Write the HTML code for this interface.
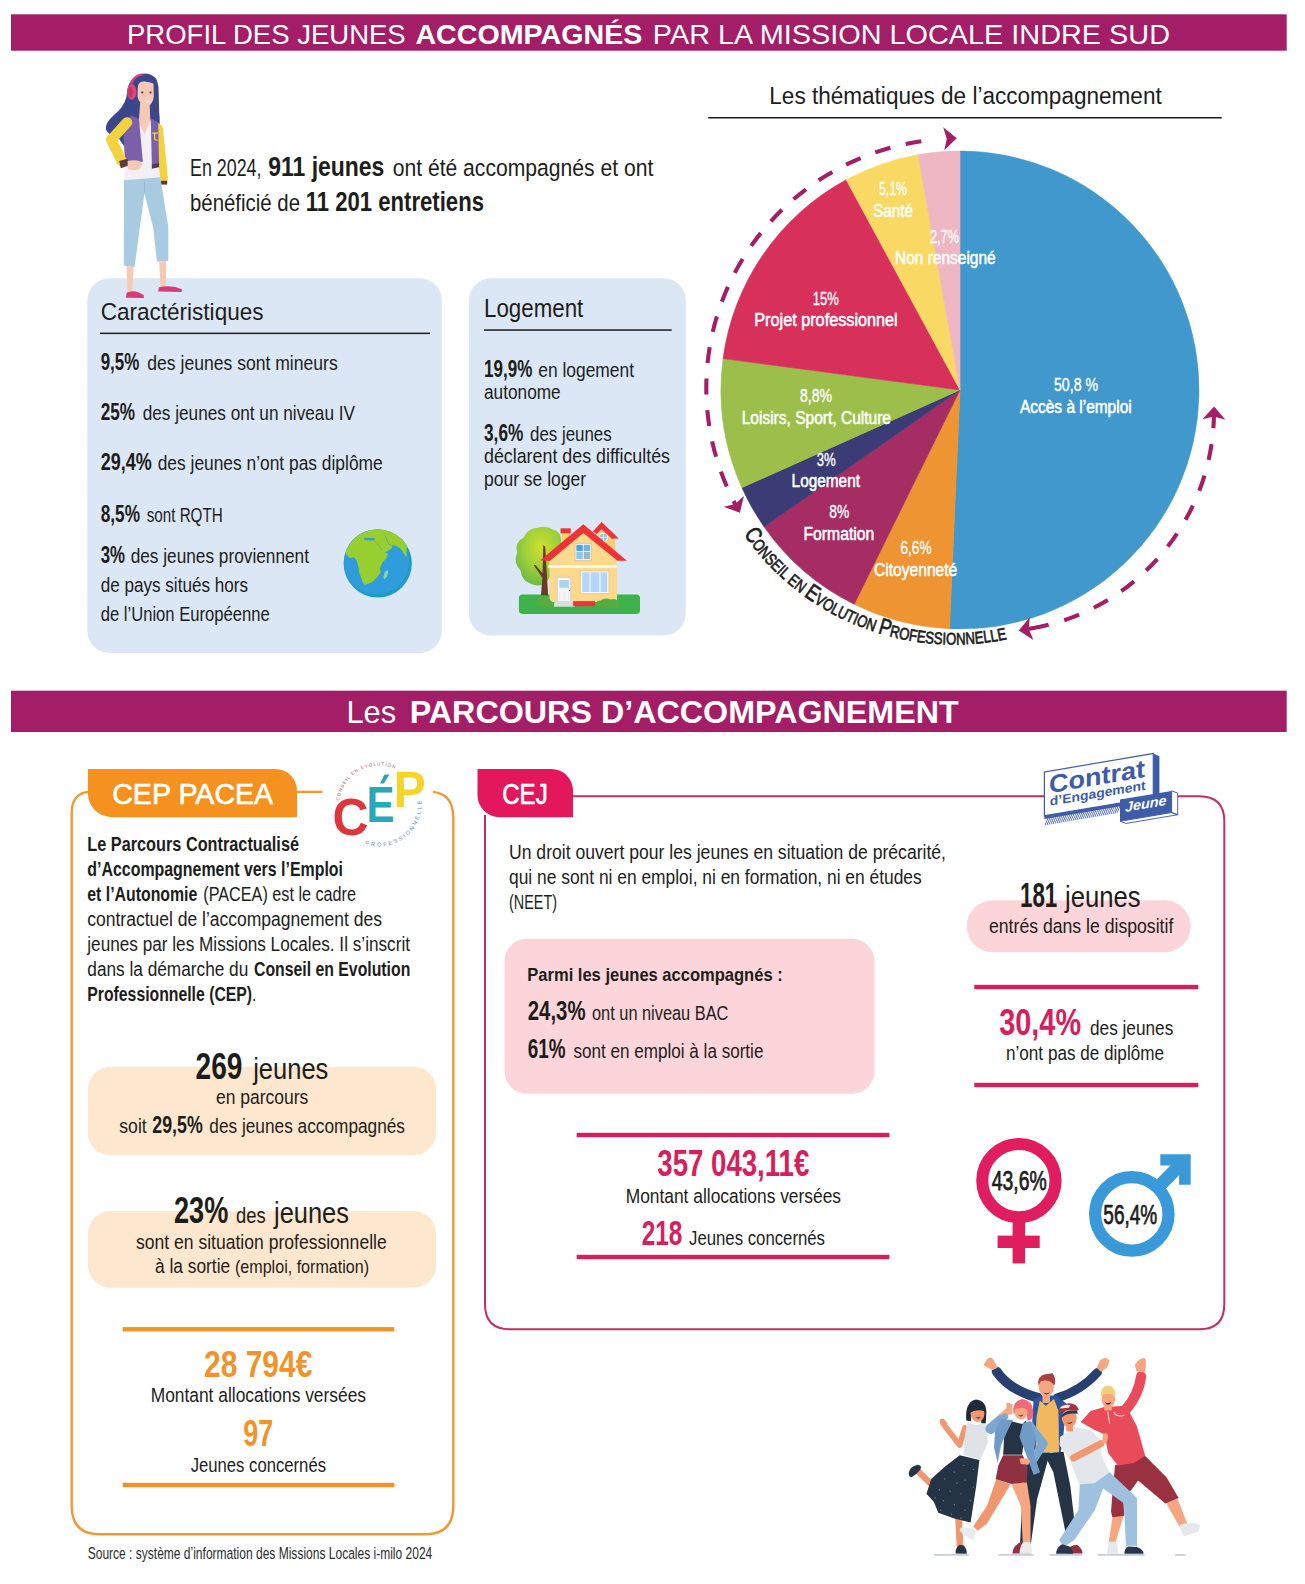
<!DOCTYPE html>
<html lang="fr"><head><meta charset="utf-8"><title>Profil des jeunes accompagnés par la Mission Locale Indre Sud</title>
<style>
html,body{margin:0;padding:0;background:#fff}
svg{display:block}
text{font-family:"Liberation Sans",sans-serif}
</style></head><body>
<svg width="1305" height="1584" viewBox="0 0 1305 1584">
<rect width="1305" height="1584" fill="#fff"/>
<rect x="11" y="14.3" width="1275.7" height="36.4" fill="#a31e66"/>
<text x="127.0" y="43.7" font-size="28.5" fill="#fff" text-anchor="start" textLength="278.7" lengthAdjust="spacingAndGlyphs">PROFIL DES JEUNES</text>
<text x="415.4" y="43.7" font-size="28.5" fill="#fff" text-anchor="start" font-weight="bold" textLength="227.1" lengthAdjust="spacingAndGlyphs">ACCOMPAGNÉS</text>
<text x="652.8" y="43.7" font-size="28.5" fill="#fff" text-anchor="start" textLength="517.2" lengthAdjust="spacingAndGlyphs">PAR LA MISSION LOCALE INDRE SUD</text>
<text x="190.0" y="175.7" font-size="23.7" fill="#1d1d1b" text-anchor="start" textLength="71.5" lengthAdjust="spacingAndGlyphs">En 2024,</text>
<text x="268.3" y="175.7" font-size="28" fill="#1d1d1b" text-anchor="start" font-weight="bold" textLength="116.0" lengthAdjust="spacingAndGlyphs">911 jeunes</text>
<text x="392.7" y="175.7" font-size="23.7" fill="#1d1d1b" text-anchor="start" textLength="260.6" lengthAdjust="spacingAndGlyphs">ont été accompagnés et ont</text>
<text x="190.0" y="210.7" font-size="23.7" fill="#1d1d1b" text-anchor="start" textLength="110.0" lengthAdjust="spacingAndGlyphs">bénéficié de</text>
<text x="305.7" y="210.7" font-size="27" fill="#1d1d1b" text-anchor="start" font-weight="bold" textLength="178.3" lengthAdjust="spacingAndGlyphs">11 201 entretiens</text>
<rect x="87.3" y="278.3" width="354.5" height="374.6" rx="22" fill="#dce7f5"/>
<text x="100.7" y="320.0" font-size="24.5" fill="#1d1d1b" text-anchor="start" textLength="162.8" lengthAdjust="spacingAndGlyphs">Caractéristiques</text>
<rect x="100" y="332.6" width="330" height="1.5" fill="#1d1d1b"/>
<text x="100.7" y="370.0" font-size="23.5" fill="#1d1d1b" text-anchor="start" font-weight="bold" textLength="38.6" lengthAdjust="spacingAndGlyphs">9,5%</text>
<text x="147.3" y="370.0" font-size="20.5" fill="#1d1d1b" text-anchor="start" textLength="190.4" lengthAdjust="spacingAndGlyphs">des jeunes sont mineurs</text>
<text x="100.7" y="420.0" font-size="23.5" fill="#1d1d1b" text-anchor="start" font-weight="bold" textLength="34.3" lengthAdjust="spacingAndGlyphs">25%</text>
<text x="142.7" y="420.0" font-size="20.5" fill="#1d1d1b" text-anchor="start" textLength="212.3" lengthAdjust="spacingAndGlyphs">des jeunes ont un niveau IV</text>
<text x="100.7" y="470.0" font-size="23.5" fill="#1d1d1b" text-anchor="start" font-weight="bold" textLength="51.0" lengthAdjust="spacingAndGlyphs">29,4%</text>
<text x="157.7" y="470.0" font-size="20.5" fill="#1d1d1b" text-anchor="start" textLength="225.0" lengthAdjust="spacingAndGlyphs">des jeunes n’ont pas diplôme</text>
<text x="100.7" y="521.7" font-size="23.5" fill="#1d1d1b" text-anchor="start" font-weight="bold" textLength="39.3" lengthAdjust="spacingAndGlyphs">8,5%</text>
<text x="146.7" y="521.7" font-size="20.5" fill="#1d1d1b" text-anchor="start" textLength="76.0" lengthAdjust="spacingAndGlyphs">sont RQTH</text>
<text x="100.7" y="563.0" font-size="23.5" fill="#1d1d1b" text-anchor="start" font-weight="bold" textLength="24.3" lengthAdjust="spacingAndGlyphs">3%</text>
<text x="130.7" y="563.0" font-size="20.5" fill="#1d1d1b" text-anchor="start" textLength="178.3" lengthAdjust="spacingAndGlyphs">des jeunes proviennent</text>
<text x="100.7" y="592.3" font-size="20.5" fill="#1d1d1b" text-anchor="start" textLength="147.3" lengthAdjust="spacingAndGlyphs">de pays situés hors</text>
<text x="100.7" y="621.3" font-size="20.5" fill="#1d1d1b" text-anchor="start" textLength="169.0" lengthAdjust="spacingAndGlyphs">de l’Union Européenne</text>
<rect x="468.9" y="278.3" width="216.8" height="357.1" rx="22" fill="#dce7f5"/>
<text x="484.0" y="316.7" font-size="25" fill="#1d1d1b" text-anchor="start" textLength="99.3" lengthAdjust="spacingAndGlyphs">Logement</text>
<rect x="484" y="329.3" width="187.7" height="1.5" fill="#1d1d1b"/>
<text x="484.0" y="376.7" font-size="23.5" fill="#1d1d1b" text-anchor="start" font-weight="bold" textLength="48.3" lengthAdjust="spacingAndGlyphs">19,9%</text>
<text x="538.3" y="376.7" font-size="20.5" fill="#1d1d1b" text-anchor="start" textLength="95.7" lengthAdjust="spacingAndGlyphs">en logement</text>
<text x="484.0" y="399.3" font-size="20.5" fill="#1d1d1b" text-anchor="start" textLength="76.7" lengthAdjust="spacingAndGlyphs">autonome</text>
<text x="484.0" y="440.7" font-size="23.5" fill="#1d1d1b" text-anchor="start" font-weight="bold" textLength="39.3" lengthAdjust="spacingAndGlyphs">3,6%</text>
<text x="530.0" y="440.7" font-size="20.5" fill="#1d1d1b" text-anchor="start" textLength="81.7" lengthAdjust="spacingAndGlyphs">des jeunes</text>
<text x="484.0" y="463.3" font-size="20.5" fill="#1d1d1b" text-anchor="start" textLength="186.0" lengthAdjust="spacingAndGlyphs">déclarent des difficultés</text>
<text x="484.0" y="486.0" font-size="20.5" fill="#1d1d1b" text-anchor="start" textLength="102.0" lengthAdjust="spacingAndGlyphs">pour se loger</text>
<text x="769.3" y="104.3" font-size="23.3" fill="#1d1d1b" text-anchor="start" textLength="392.4" lengthAdjust="spacingAndGlyphs">Les thématiques de l’accompagnement</text>
<rect x="708.3" y="117" width="513.4" height="1.5" fill="#1d1d1b"/>
<path d="M960 390 L960.00 151.00 A239 239 0 1 1 949.49 628.77 Z" fill="#4198cd" stroke="#4198cd" stroke-width="0.6"/>
<path d="M960 390 L949.49 628.77 A239 239 0 0 1 854.18 604.30 Z" fill="#ee9433" stroke="#ee9433" stroke-width="0.6"/>
<path d="M960 390 L854.18 604.30 A239 239 0 0 1 764.03 526.81 Z" fill="#a62d63" stroke="#a62d63" stroke-width="0.6"/>
<path d="M960 390 L764.03 526.81 A239 239 0 0 1 741.87 487.67 Z" fill="#3b3b75" stroke="#3b3b75" stroke-width="0.6"/>
<path d="M960 390 L741.87 487.67 A239 239 0 0 1 723.08 358.56 Z" fill="#9bbf4a" stroke="#9bbf4a" stroke-width="0.6"/>
<path d="M960 390 L723.08 358.56 A239 239 0 0 1 846.18 179.84 Z" fill="#d7305a" stroke="#d7305a" stroke-width="0.6"/>
<path d="M960 390 L846.18 179.84 A239 239 0 0 1 918.17 154.69 Z" fill="#f9d864" stroke="#f9d864" stroke-width="0.6"/>
<path d="M960 390 L918.17 154.69 A239 239 0 0 1 960.00 151.00 Z" fill="#efb6c4" stroke="#efb6c4" stroke-width="0.6"/>
<text x="1076.0" y="390.7" font-size="17.5" fill="#fff" text-anchor="middle" textLength="44.0" lengthAdjust="spacingAndGlyphs" stroke="#fff" stroke-width="0.35">50,8 %</text>
<text x="1020.0" y="412.7" font-size="17.5" fill="#fff" text-anchor="start" textLength="111.7" lengthAdjust="spacingAndGlyphs" stroke="#fff" stroke-width="0.55">Accès à l’emploi</text>
<text x="916.0" y="554.0" font-size="17.5" fill="#fff" text-anchor="middle" textLength="31.0" lengthAdjust="spacingAndGlyphs" stroke="#fff" stroke-width="0.35">6,6%</text>
<text x="874.0" y="575.7" font-size="17.5" fill="#fff" text-anchor="start" textLength="83.3" lengthAdjust="spacingAndGlyphs" stroke="#fff" stroke-width="0.55">Citoyenneté</text>
<text x="839.3" y="518.0" font-size="17.5" fill="#fff" text-anchor="middle" textLength="20.0" lengthAdjust="spacingAndGlyphs" stroke="#fff" stroke-width="0.35">8%</text>
<text x="803.4" y="539.9" font-size="17.5" fill="#fff" text-anchor="start" textLength="70.9" lengthAdjust="spacingAndGlyphs" stroke="#fff" stroke-width="0.55">Formation</text>
<text x="826.3" y="465.7" font-size="17.5" fill="#fff" text-anchor="middle" textLength="19.0" lengthAdjust="spacingAndGlyphs" stroke="#fff" stroke-width="0.35">3%</text>
<text x="791.6" y="487.4" font-size="17.5" fill="#fff" text-anchor="start" textLength="68.4" lengthAdjust="spacingAndGlyphs" stroke="#fff" stroke-width="0.55">Logement</text>
<text x="816.0" y="401.7" font-size="17.5" fill="#fff" text-anchor="middle" textLength="32.0" lengthAdjust="spacingAndGlyphs" stroke="#fff" stroke-width="0.35">8,8%</text>
<text x="741.7" y="424.3" font-size="17.5" fill="#fff" text-anchor="start" textLength="149.3" lengthAdjust="spacingAndGlyphs" stroke="#fff" stroke-width="0.55">Loisirs, Sport, Culture</text>
<text x="825.7" y="305.0" font-size="17.5" fill="#fff" text-anchor="middle" textLength="26.0" lengthAdjust="spacingAndGlyphs" stroke="#fff" stroke-width="0.35">15%</text>
<text x="754.3" y="326.0" font-size="17.5" fill="#fff" text-anchor="start" textLength="143.4" lengthAdjust="spacingAndGlyphs" stroke="#fff" stroke-width="0.55">Projet professionnel</text>
<text x="893.0" y="195.0" font-size="17.5" fill="#fff" text-anchor="middle" textLength="28.0" lengthAdjust="spacingAndGlyphs" stroke="#fff" stroke-width="0.35">5,1%</text>
<text x="873.0" y="216.7" font-size="17.5" fill="#fff" text-anchor="start" textLength="40.0" lengthAdjust="spacingAndGlyphs" stroke="#fff" stroke-width="0.55">Santé</text>
<text x="944.5" y="242.7" font-size="17.5" fill="#fff" text-anchor="middle" textLength="29.0" lengthAdjust="spacingAndGlyphs" stroke="#fff" stroke-width="0.35">2,7%</text>
<text x="895.0" y="264.0" font-size="17.5" fill="#fff" text-anchor="start" textLength="100.7" lengthAdjust="spacingAndGlyphs" stroke="#fff" stroke-width="0.55">Non renseigné</text>
<path d="M735.43 504.41 A252.4 249.6 0 0 1 947.25 138.66" fill="none" stroke="#a31e66" stroke-width="4.1" stroke-dasharray="4 16 16 15.55 16 15.55 16 15.55 16 15.55 16 15.55 16 15.55 16 15.55 16 15.55 16 15.55 16 15.55 16 15.55 16 15.55 16 15.55 16 15.55 16 200"/>
<path transform="translate(735.43 504.41) rotate(61.9)" d="M9.5 0 L-3.5 -11.5 L-0.5 0 L-3.5 11.5 Z" fill="#a31e66"/>
<path transform="translate(947.25 138.66) rotate(-2.6)" d="M9.5 0 L-3.5 -11.5 L-0.5 0 L-3.5 11.5 Z" fill="#a31e66"/>
<path d="M1213.95 416.11 A220.3 220.3 0 0 1 1028.16 629.09" fill="none" stroke="#a31e66" stroke-width="4.1" stroke-dasharray="12.0 16.2 16.0 16.2 16.0 16.2 16.0 16.2 16.0 16.2 16.0 16.2 16.0 16.2 16.0 16.2 16.0 16.2 23.0 50.0"/>
<path transform="translate(1213.95 416.11) rotate(-88.8)" d="M9.5 0 L-3.5 -11.5 L-0.5 0 L-3.5 11.5 Z" fill="#a31e66"/>
<path transform="translate(1028.16 629.09) rotate(171.0)" d="M9.5 0 L-3.5 -11.5 L-0.5 0 L-3.5 11.5 Z" fill="#a31e66"/>
<path id="cepArc" d="M743.55 534.29 A256.1 256.1 0 0 0 1041.69 629.16" fill="none"/>
<text font-size="16.8" fill="#1d1d1b" stroke="#1d1d1b" stroke-width="0.7" textLength="300.4" lengthAdjust="spacingAndGlyphs"><textPath href="#cepArc" textLength="300.4" lengthAdjust="spacingAndGlyphs"><tspan font-size="23">C</tspan>ONSEIL EN <tspan font-size="23">E</tspan>VOLUTION <tspan font-size="23">P</tspan>ROFESSIONNELLE</textPath></text>
<rect x="11" y="690.7" width="1275.7" height="41.3" fill="#a31e66"/>
<text x="346.4" y="723.4" font-size="31.5" fill="#fff" text-anchor="start" textLength="49.8" lengthAdjust="spacingAndGlyphs">Les</text>
<text x="409.7" y="723.4" font-size="31.5" fill="#fff" text-anchor="start" font-weight="bold" textLength="549.1" lengthAdjust="spacingAndGlyphs">PARCOURS D’ACCOMPAGNEMENT</text>
<path d="M296 791.9 H322.5" fill="none" stroke="#ef9a33" stroke-width="2.4"/>
<path d="M433 791.9 Q453.3 794 453.3 818 V1506 Q453.3 1534.3 425 1534.3 H100 Q71.7 1534.3 71.7 1506 V813 Q71.7 793 89 791.9" fill="none" stroke="#ef9a33" stroke-width="2.4"/>
<path d="M87.9 768.9 H275 A22 22 0 0 1 297 790.9 V817.2 H111.9 A24 24 0 0 1 87.9 793.2 Z" fill="#f5921f"/>
<text x="112.2" y="803.6" font-size="29" fill="#fff" text-anchor="start" textLength="161.0" lengthAdjust="spacingAndGlyphs" stroke="#fff" stroke-width="0.65">CEP PACEA</text>
<text x="87.3" y="851.3" font-size="20" fill="#1d1d1b" text-anchor="start" font-weight="bold" textLength="211.7" lengthAdjust="spacingAndGlyphs">Le Parcours Contractualisé</text>
<text x="87.3" y="876.3" font-size="20" fill="#1d1d1b" text-anchor="start" font-weight="bold" textLength="255.7" lengthAdjust="spacingAndGlyphs">d’Accompagnement vers l’Emploi</text>
<text x="87.3" y="901.3" font-size="20" fill="#1d1d1b" text-anchor="start" font-weight="bold" textLength="110.0" lengthAdjust="spacingAndGlyphs">et l’Autonomie</text>
<text x="203.3" y="901.3" font-size="20" fill="#1d1d1b" text-anchor="start" textLength="152.7" lengthAdjust="spacingAndGlyphs">(PACEA) est le cadre</text>
<text x="87.3" y="926.3" font-size="20" fill="#1d1d1b" text-anchor="start" textLength="294.7" lengthAdjust="spacingAndGlyphs">contractuel de l’accompagnement des</text>
<text x="87.3" y="951.3" font-size="20" fill="#1d1d1b" text-anchor="start" textLength="322.7" lengthAdjust="spacingAndGlyphs">jeunes par les Missions Locales. Il s’inscrit</text>
<text x="87.3" y="976.3" font-size="20" fill="#1d1d1b" text-anchor="start" textLength="161.0" lengthAdjust="spacingAndGlyphs">dans la démarche du</text>
<text x="254.0" y="976.3" font-size="20" fill="#1d1d1b" text-anchor="start" font-weight="bold" textLength="156.3" lengthAdjust="spacingAndGlyphs">Conseil en Evolution</text>
<text x="87.3" y="1001.3" font-size="20" fill="#1d1d1b" text-anchor="start" textLength="169.2" lengthAdjust="spacingAndGlyphs"><tspan font-weight="bold">Professionnelle (CEP)</tspan>.</text>
<rect x="88" y="1066.7" width="348" height="88.6" rx="22.5" fill="#fde7ce"/>
<text x="195.5" y="1078.8" font-size="37" fill="#1d1d1b" text-anchor="start" font-weight="bold" textLength="46.9" lengthAdjust="spacingAndGlyphs">269</text>
<text x="253.2" y="1078.8" font-size="29.5" fill="#1d1d1b" text-anchor="start" textLength="75.2" lengthAdjust="spacingAndGlyphs">jeunes</text>
<text x="216.0" y="1103.7" font-size="20.5" fill="#1d1d1b" text-anchor="start" textLength="92.3" lengthAdjust="spacingAndGlyphs">en parcours</text>
<text x="119.3" y="1133.3" font-size="20.5" fill="#1d1d1b" text-anchor="start" textLength="27.4" lengthAdjust="spacingAndGlyphs">soit</text>
<text x="152.3" y="1133.3" font-size="23.5" fill="#1d1d1b" text-anchor="start" font-weight="bold" textLength="50.4" lengthAdjust="spacingAndGlyphs">29,5%</text>
<text x="209.3" y="1133.3" font-size="20.5" fill="#1d1d1b" text-anchor="start" textLength="195.7" lengthAdjust="spacingAndGlyphs">des jeunes accompagnés</text>
<rect x="88" y="1211" width="348" height="76.7" rx="22.5" fill="#fde7ce"/>
<text x="174.0" y="1222.7" font-size="36.5" fill="#1d1d1b" text-anchor="start" font-weight="bold" textLength="54.3" lengthAdjust="spacingAndGlyphs">23%</text>
<text x="236.0" y="1222.7" font-size="22" fill="#1d1d1b" text-anchor="start" textLength="29.7" lengthAdjust="spacingAndGlyphs">des</text>
<text x="274.0" y="1222.7" font-size="29.5" fill="#1d1d1b" text-anchor="start" textLength="75.0" lengthAdjust="spacingAndGlyphs">jeunes</text>
<text x="136.0" y="1248.7" font-size="20.5" fill="#1d1d1b" text-anchor="start" textLength="250.7" lengthAdjust="spacingAndGlyphs">sont en situation professionnelle</text>
<text x="155.0" y="1273.3" font-size="20.5" fill="#1d1d1b" text-anchor="start" textLength="214.0" lengthAdjust="spacingAndGlyphs">à la sortie <tspan font-size="19">(emploi, formation)</tspan></text>
<rect x="122.7" y="1327.1" width="271.6" height="4.4" fill="#f0932b"/>
<text x="204.0" y="1376.7" font-size="37" fill="#f0932b" text-anchor="start" font-weight="bold" textLength="108.3" lengthAdjust="spacingAndGlyphs">28 794€</text>
<text x="150.7" y="1402.0" font-size="20.5" fill="#1d1d1b" text-anchor="start" textLength="215.3" lengthAdjust="spacingAndGlyphs">Montant allocations versées</text>
<text x="243.3" y="1446.0" font-size="36" fill="#f0932b" text-anchor="start" font-weight="bold" textLength="30.0" lengthAdjust="spacingAndGlyphs">97</text>
<text x="190.7" y="1472.0" font-size="20.5" fill="#1d1d1b" text-anchor="start" textLength="135.3" lengthAdjust="spacingAndGlyphs">Jeunes concernés</text>
<rect x="122.7" y="1482.8" width="271.6" height="4.4" fill="#f0932b"/>
<text x="87.7" y="1558.9" font-size="16.3" fill="#2b2b2b" text-anchor="start" textLength="344.6" lengthAdjust="spacingAndGlyphs">Source : système d’information des Missions Locales i-milo 2024</text>
<path d="M571 796.2 H1044.5" fill="none" stroke="#c62c62" stroke-width="2"/>
<path d="M1178 796.2 H1199.3 Q1224.3 796.2 1224.3 821.2 V1304.3 Q1224.3 1329.3 1199.3 1329.3 H510 Q485 1329.3 485 1304.3 V815" fill="none" stroke="#c62c62" stroke-width="2"/>
<path d="M477.5 768.9 H551 A22 22 0 0 1 573 790.9 V817.2 H499.5 A22 22 0 0 1 477.5 795.2 Z" fill="#e2175c"/>
<text x="502.2" y="803.6" font-size="29" fill="#fff" text-anchor="start" textLength="45.5" lengthAdjust="spacingAndGlyphs" stroke="#fff" stroke-width="0.65">CEJ</text>
<text x="509.0" y="859.0" font-size="20" fill="#1d1d1b" text-anchor="start" textLength="437.0" lengthAdjust="spacingAndGlyphs">Un droit ouvert pour les jeunes en situation de précarité,</text>
<text x="509.0" y="884.0" font-size="20" fill="#1d1d1b" text-anchor="start" textLength="412.7" lengthAdjust="spacingAndGlyphs">qui ne sont ni en emploi, ni en formation, ni en études</text>
<text x="509.0" y="909.0" font-size="20" fill="#1d1d1b" text-anchor="start" textLength="48.0" lengthAdjust="spacingAndGlyphs">(NEET)</text>
<rect x="504.5" y="938.8" width="370" height="155" rx="22.5" fill="#fbd5d9"/>
<text x="527.3" y="981.3" font-size="19" fill="#1d1d1b" text-anchor="start" font-weight="bold" textLength="255.4" lengthAdjust="spacingAndGlyphs">Parmi les jeunes accompagnés :</text>
<text x="527.8" y="1019.7" font-size="27" fill="#1d1d1b" text-anchor="start" font-weight="bold" textLength="57.7" lengthAdjust="spacingAndGlyphs">24,3%</text>
<text x="592.0" y="1019.7" font-size="20.5" fill="#1d1d1b" text-anchor="start" textLength="136.4" lengthAdjust="spacingAndGlyphs">ont un niveau BAC</text>
<text x="527.8" y="1058.0" font-size="27" fill="#1d1d1b" text-anchor="start" font-weight="bold" textLength="37.7" lengthAdjust="spacingAndGlyphs">61%</text>
<text x="573.5" y="1058.0" font-size="20.5" fill="#1d1d1b" text-anchor="start" textLength="189.9" lengthAdjust="spacingAndGlyphs">sont en emploi à la sortie</text>
<rect x="576.7" y="1132.8" width="312.7" height="4.4" fill="#d5205d"/>
<text x="657.3" y="1176.0" font-size="36" fill="#d5205d" text-anchor="start" font-weight="bold" textLength="152.0" lengthAdjust="spacingAndGlyphs">357 043,11€</text>
<text x="625.7" y="1202.7" font-size="20.5" fill="#1d1d1b" text-anchor="start" textLength="215.3" lengthAdjust="spacingAndGlyphs">Montant allocations versées</text>
<text x="641.7" y="1245.0" font-size="35" fill="#d5205d" text-anchor="start" font-weight="bold" textLength="40.6" lengthAdjust="spacingAndGlyphs">218</text>
<text x="689.0" y="1245.0" font-size="20.5" fill="#1d1d1b" text-anchor="start" textLength="136.0" lengthAdjust="spacingAndGlyphs">Jeunes concernés</text>
<rect x="576.7" y="1254.8" width="312.7" height="4.4" fill="#d5205d"/>
<rect x="966.7" y="900.3" width="224" height="52" rx="26" fill="#fbd5d9"/>
<text x="1020.0" y="907.3" font-size="35" fill="#1d1d1b" text-anchor="start" font-weight="bold" textLength="37.3" lengthAdjust="spacingAndGlyphs">181</text>
<text x="1065.0" y="907.3" font-size="29" fill="#1d1d1b" text-anchor="start" textLength="75.7" lengthAdjust="spacingAndGlyphs">jeunes</text>
<text x="989.0" y="933.0" font-size="20.5" fill="#1d1d1b" text-anchor="start" textLength="184.3" lengthAdjust="spacingAndGlyphs">entrés dans le dispositif</text>
<rect x="974.3" y="984.8" width="224" height="4.4" fill="#d5205d"/>
<text x="999.3" y="1034.7" font-size="36" fill="#d5205d" text-anchor="start" font-weight="bold" textLength="81.7" lengthAdjust="spacingAndGlyphs">30,4%</text>
<text x="1090.0" y="1034.7" font-size="20.5" fill="#1d1d1b" text-anchor="start" textLength="83.3" lengthAdjust="spacingAndGlyphs">des jeunes</text>
<text x="1006.0" y="1060.0" font-size="20.5" fill="#1d1d1b" text-anchor="start" textLength="158.0" lengthAdjust="spacingAndGlyphs">n’ont pas de diplôme</text>
<rect x="974.3" y="1082.8" width="224" height="4.4" fill="#d5205d"/>
<circle cx="1018.9" cy="1180.6" r="36.65" fill="#fff" stroke="#e01e5f" stroke-width="12.1"/>
<rect x="1012.6" y="1222" width="12.5" height="41.4" fill="#e01e5f"/>
<rect x="997.6" y="1235.6" width="42.1" height="12.4" fill="#e01e5f"/>
<text x="991.7" y="1190.3" font-size="27.5" fill="#1d1d1b" text-anchor="start" textLength="55.0" lengthAdjust="spacingAndGlyphs" stroke="#1d1d1b" stroke-width="0.75">43,6%</text>
<path d="M1160.3 1154.2 H1190.7 V1184.7 H1179.1 V1165.4 H1160.3 Z" fill="#3a9ad9"/>
<path d="M1157 1188.4 L1185 1160" stroke="#3a9ad9" stroke-width="13" fill="none"/>
<circle cx="1131.8" cy="1213.9" r="36.7" fill="#fff" stroke="#3a9ad9" stroke-width="12.2"/>
<text x="1103.3" y="1223.7" font-size="27.5" fill="#1d1d1b" text-anchor="start" textLength="54.0" lengthAdjust="spacingAndGlyphs" stroke="#1d1d1b" stroke-width="0.75">56,4%</text>
<g transform="translate(90 60) scale(0.15789)">
<path d="M345 86 Q425 90 434 175 L438 330 Q446 400 436 425 L300 430 L215 545 L185 500 Q120 480 100 440 Q95 400 150 350 Q215 300 232 230 Q235 100 345 86 Z" fill="#3a478c"/>
<path d="M318 270 H378 L382 400 L345 470 L308 400 Z" fill="#f6c9b4"/>
<path d="M300 380 L345 470 L385 375 L440 420 L445 745 L215 765 L225 640 L300 560 Z" fill="#f4eff4"/>
<path d="M262 352 L310 372 L335 645 L222 655 L212 470 Q225 380 262 352 Z" fill="#7b5fa8"/>
<path d="M385 368 L440 400 L450 672 L392 684 Z" fill="#7b5fa8"/>
<path d="M392 660 L450 650 L450 676 L392 688 Z" fill="#4e3b5e"/>
<path d="M393 463 H431 M409 463 V494 Q409 510 429 507" fill="none" stroke="#f3d23f" stroke-width="9"/>
<path d="M235 395 L135 505 L200 640" fill="none" stroke="#f3d23f" stroke-width="66" stroke-linecap="round" stroke-linejoin="round"/>
<path d="M185 640 L238 625 L245 668 L195 685 Z" fill="#5b3b3b"/>
<path d="M238 640 Q300 625 332 650 L318 690 Q270 705 240 690 Z" fill="#f6c9b4"/>
<path d="M432 400 Q456 405 463 440 L493 745 L491 768 L448 772 L438 690 Z" fill="#f3d23f"/>
<rect x="447" y="765" width="42" height="24" fill="#5b3b3b"/>
<path d="M302 150 Q350 120 402 150 L404 230 Q400 285 358 295 Q312 285 300 230 Z" fill="#f6c9b4"/>
<path d="M300 235 Q292 150 330 128 Q380 150 408 140 L410 240 Q440 180 420 120 Q380 80 320 92 Q262 120 270 250 Z" fill="#3a478c"/>
<circle cx="331" cy="206" r="6.5" fill="#222"/><circle cx="383" cy="206" r="6.5" fill="#222"/>
<path d="M340 258 Q365 272 388 255 Q370 285 340 258 Z" fill="#fff"/>
<path d="M258 175 Q262 100 335 90" fill="none" stroke="#e0447a" stroke-width="13"/>
<ellipse cx="264" cy="202" rx="29" ry="50" fill="#e0447a"/>
<ellipse cx="256" cy="204" rx="14" ry="36" fill="#c2336a"/>
<path d="M215 762 L445 742 L496 1060 L496 1272 L424 1278 L400 1060 L345 845 L282 1312 L214 1302 Z" fill="#a9cbe2"/>
<path d="M345 770 L347 845" stroke="#8fb3cf" stroke-width="5" fill="none"/>
<path d="M232 1305 L276 1310 L268 1480 L238 1480 Z" fill="#f6c9b4"/>
<path d="M438 1276 L482 1272 L480 1440 L446 1440 Z" fill="#f6c9b4"/>
<path d="M228 1506 L232 1474 Q285 1448 340 1490 L342 1508 Z" fill="#d63a77"/>
<path d="M432 1466 L436 1440 Q520 1422 582 1452 L580 1470 Z" fill="#d63a77"/>
</g>
<defs><clipPath id="gclip"><circle cx="620" cy="630" r="495"/></clipPath><radialGradient id="treeG" cx="0.55" cy="0.35" r="0.65"><stop offset="0" stop-color="#cfe02a"/><stop offset="0.55" stop-color="#9fd03a"/><stop offset="1" stop-color="#6fba45"/></radialGradient></defs>
<g transform="translate(335 520) scale(0.068966)">
<circle cx="620" cy="630" r="495" fill="#1f9cc6"/>
<circle cx="600" cy="610" r="470" fill="#2f9ddc"/>
<g clip-path="url(#gclip)">
<path d="M100 430 L100 100 L1100 100 L1100 400 L1040 400 L1035 545 L990 470 L940 405 L880 372 L832 362 L822 410 L765 450 L722 470 L772 490 L742 560 L685 620 L652 700 L662 760 L602 840 L542 900 L432 942 L400 900 L352 760 L340 680 L312 580 L272 540 L205 552 L180 512 Z" fill="#98cf30"/>
<path d="M420 262 Q500 250 585 268 L575 295 Q500 300 425 290 Z" fill="#2f9ddc"/>
<path d="M612 340 L690 440 M722 222 L770 340 L820 370" stroke="#3f9fc0" stroke-width="9" fill="none"/>
<ellipse cx="736" cy="790" rx="24" ry="66" transform="rotate(20 736 790)" fill="#8ed7a2"/>
</g></g>
<g transform="translate(505 515) scale(0.111111)">
<rect x="125" y="715" width="1090" height="175" rx="32" fill="#3eb34b"/>
<path d="M300 112 Q380 95 430 130 Q510 150 505 240 Q540 330 470 400 Q480 520 400 560 Q350 660 250 625 Q150 600 140 500 Q70 430 110 340 Q80 250 170 200 Q200 120 300 112 Z" fill="url(#treeG)"/>
<path d="M345 270 L362 285 L388 722 L324 722 L336 565 L260 455 L272 447 L338 525 Z" fill="#6b3927"/>
<rect x="512" y="150" width="72" height="110" fill="#f9cf6d"/><rect x="500" y="120" width="92" height="45" fill="#ee3338"/>
<path d="M832 175 L872 120 L992 225 L992 330 L832 330 Z" fill="#f6cc74"/>
<path d="M790 148 L870 62 L1024 212 L962 214 L870 128 L826 172 Z" fill="#ee3338"/>
<circle cx="886" cy="202" r="43" fill="#fbf3e2"/><circle cx="886" cy="202" r="33" fill="#8fc3ee"/><path d="M886 169 V235 M853 202 H919" stroke="#fbf3e2" stroke-width="6"/>
<path d="M400 412 L705 150 L1008 412 L1008 782 L400 782 Z" fill="#fcd98b"/>
<path d="M318 408 L705 84 L1098 412 L1012 412 L705 162 L402 414 Z" fill="#ee3338"/>
<rect x="390" y="450" width="622" height="26" fill="#fdf6e8"/>
<rect x="625" y="250" width="156" height="166" fill="#d8c7a4"/><rect x="635" y="260" width="136" height="146" fill="#fff"/>
<rect x="642" y="268" width="58" height="58" fill="#4fa3dc"/><rect x="708" y="268" width="57" height="58" fill="#6fb4e4"/><rect x="642" y="333" width="58" height="65" fill="#8ec6ee"/><rect x="708" y="333" width="57" height="65" fill="#9db6c4"/>
<rect x="670" y="495" width="270" height="220" fill="#e8cf9c"/><rect x="684" y="508" width="246" height="194" fill="#fff"/>
<rect x="695" y="516" width="66" height="178" fill="#b5d6f6"/><rect x="770" y="516" width="80" height="178" fill="#b5d6f6"/><rect x="859" y="516" width="62" height="178" fill="#b5d6f6"/>
<rect x="450" y="545" width="156" height="236" fill="#f3d596"/><rect x="471" y="564" width="120" height="214" fill="#f4f6fa" stroke="#c9c9c9" stroke-width="4"/><rect x="489" y="585" width="86" height="70" fill="#a9d3f5"/>
<path d="M490 690 V765 M532 690 V765 M574 690 V765" stroke="#d5dbe3" stroke-width="5"/><circle cx="581" cy="680" r="6" fill="#222"/>
<path d="M445 775 H612 L632 826 H440 Z" fill="#dcdcdc"/>
<rect x="614" y="775" width="196" height="46" fill="#ee3338"/>
<path d="M262 800 Q270 740 330 745 Q380 720 410 770 Q450 800 430 835 L350 835 Q300 800 262 800 Z" fill="#55ad3f"/>
<path d="M815 830 Q800 770 860 770 Q900 740 950 760 Q1010 745 1030 800 Q1060 830 1030 832 Z" fill="#55ad3f"/>
</g>
<circle cx="379" cy="804" r="47" fill="#fff"/>
<text x="332.6" y="835" font-size="51" font-weight="bold" fill="#e0343c" textLength="36" lengthAdjust="spacingAndGlyphs">C</text>
<text x="366.6" y="821.8" font-size="50" font-weight="bold" fill="#2aa6b9" textLength="28" lengthAdjust="spacingAndGlyphs">E</text>
<path d="M380 783.5 L384.5 774.5 L389.5 774.5 L383.8 783.5 Z" fill="#2aa6b9"/>
<text x="393.8" y="807.3" font-size="50" font-weight="bold" fill="#f5d328" textLength="32" lengthAdjust="spacingAndGlyphs">P</text>
<path id="cepT" d="M339.30 800.63 A40 40 0 0 1 399.00 770.86" fill="none"/>
<path id="cepB" d="M365.16 844.18 A42.5 42.5 0 0 0 418.94 789.46" fill="none"/>
<text font-size="4.6" fill="#b9556e"><textPath href="#cepT" textLength="74" lengthAdjust="spacing">CONSEIL EN ÉVOLUTION</textPath></text>
<text font-size="5.6" fill="#5a8fad"><textPath href="#cepB" textLength="84" lengthAdjust="spacing">PROFESSIONNELLE</textPath></text>
<g transform="translate(1044.4 771.9) skewY(-9.56)">
<path d="M2 50 L75.6 50" stroke="#3e5ca8" stroke-width="7" stroke-dasharray="0.9 1.1" fill="none" transform="skewX(-25) translate(23 0)"/>
<rect x="0" y="43" width="76" height="4.2" fill="#3e5ca8"/>
<path d="M108.9 0 L115 3.6 L115 42 L108.9 42 Z" fill="#3e5ca8"/>
<rect x="0" y="0" width="108.9" height="43.9" fill="#fff" stroke="#3e5ca8" stroke-width="1.2"/>
<text x="4.6" y="22" font-size="25" font-weight="bold" fill="#3e5ca8" textLength="96" lengthAdjust="spacingAndGlyphs">Contrat</text>
<text x="5.4" y="34.8" font-size="13" font-weight="bold" fill="#3e5ca8" textLength="95.8" lengthAdjust="spacingAndGlyphs">d’Engagement</text>
<path d="M75.6 62.1 L127.2 62.1 L133.3 65.3 L81.7 65.3 Z M127.2 40.4 L133.3 43.6 L133.3 65.3 L127.2 62.1 Z" fill="#fff" stroke="#3e5ca8" stroke-width="0.9"/>
<rect x="75.6" y="40.4" width="51.6" height="21.7" fill="#3e5ca8"/>
<text x="80.6" y="53.6" font-size="14" font-weight="bold" font-style="italic" fill="#fff" textLength="41.6" lengthAdjust="spacingAndGlyphs">Jeune</text>
</g>
<g transform="translate(900 1350) scale(0.135703)">
<rect x="250" y="1503" width="260" height="13" rx="6" fill="#c9ced6"/>
<rect x="725" y="1503" width="260" height="13" rx="6" fill="#c9ced6"/>
<rect x="1100" y="1503" width="245" height="13" rx="6" fill="#c9ced6"/>
<rect x="1455" y="1503" width="350" height="13" rx="6" fill="#c9ced6"/>
<rect x="2025" y="1503" width="80" height="13" rx="6" fill="#c9ced6"/>
<path d="M712 158 Q800 290 1015 352" fill="none" stroke="#27406f" stroke-width="72" stroke-linecap="round" stroke-linejoin="round"/>
<path d="M1160 352 Q1335 300 1455 165" fill="none" stroke="#27406f" stroke-width="66" stroke-linecap="round" stroke-linejoin="round"/>
<path d="M640 70 Q670 40 690 75 L720 130 L680 150 L615 110 Z" fill="#f6a681"/>
<path d="M1475 75 Q1520 40 1545 80 L1525 130 L1480 160 L1450 130 Z" fill="#f6a681"/>
<path d="M950 755 L1105 755 L1010 1100 L965 1425 L885 1425 L900 1100 Z" fill="#253444"/>
<path d="M1060 760 L1205 750 L1255 1000 L1290 1300 L1220 1345 L1130 900 Z" fill="#253444"/>
<path d="M985 360 L1060 335 L1150 335 L1225 395 L1205 620 L1185 752 L985 752 L975 520 Z" fill="#2b559e"/>
<path d="M1030 372 L1075 410 L1135 362 L1168 450 L1172 752 L1000 752 L1005 500 Z" fill="#f2b860"/>
<rect x="1050" y="310" width="55" height="80" fill="#f6a681"/>
<ellipse cx="1078" cy="272" rx="56" ry="72" fill="#f6a681"/>
<path d="M1018 262 Q1010 190 1070 178 L1125 172 L1140 200 Q1150 240 1135 262 Q1110 215 1040 228 Z" fill="#a9403f"/>
<path d="M1055 312 Q1080 330 1105 310 Q1085 345 1055 312 Z" fill="#3a2326"/>
<path d="M830 1500 Q825 1450 890 1415 L960 1420 L965 1500 Z" fill="#8f3140"/>
<path d="M1230 1500 Q1235 1455 1275 1440 L1305 1435 Q1350 1470 1345 1500 Z" fill="#8f3140"/>
<path d="M130 890 L225 985" fill="none" stroke="#f0976f" stroke-width="46" stroke-linecap="round" stroke-linejoin="round"/>
<path d="M65 905 Q70 860 130 845 Q165 850 150 880 Q120 920 85 938 Q62 935 65 905 Z" fill="#253444"/>
<path d="M432 1240 L442 1440" fill="none" stroke="#f0976f" stroke-width="50" stroke-linecap="round" stroke-linejoin="round"/>
<path d="M410 1500 Q405 1460 440 1435 L470 1440 Q495 1470 492 1502 Z" fill="#253444"/>
<path d="M478 575 L440 700 L335 565" fill="none" stroke="#f0976f" stroke-width="42" stroke-linecap="round" stroke-linejoin="round"/>
<path d="M290 520 Q300 500 325 510 L350 540 L335 580 L300 555 Z" fill="#f0976f"/>
<path d="M440 775 L585 810 L562 1000 L520 1272 L400 1242 L282 1200 L250 1120 L195 1060 L230 950 L330 860 Z" fill="#253444"/>
<g fill="#6f88a3"><circle cx="470" cy="850" r="5"/><circle cx="540" cy="880" r="5"/><circle cx="400" cy="900" r="5"/><circle cx="330" cy="950" r="5"/><circle cx="480" cy="960" r="5"/><circle cx="540" cy="1010" r="5"/><circle cx="290" cy="1030" r="5"/><circle cx="370" cy="1040" r="5"/><circle cx="450" cy="1060" r="5"/><circle cx="520" cy="1110" r="5"/><circle cx="320" cy="1110" r="5"/><circle cx="400" cy="1140" r="5"/><circle cx="480" cy="1180" r="5"/><circle cx="300" cy="1180" r="5"/><circle cx="380" cy="1210" r="5"/><circle cx="450" cy="1240" r="5"/><circle cx="260" cy="1090" r="5"/><circle cx="420" cy="980" r="5"/></g>
<path d="M495 535 L560 552 L630 540 L650 680 L590 806 L465 772 L480 620 Z" fill="#dfe3e8"/>
<path d="M488 520 Q478 380 560 365 Q640 372 636 470 L632 540 L600 540 L590 440 L520 445 L525 525 Z" fill="#1f2a3a"/>
<ellipse cx="572" cy="470" rx="50" ry="60" fill="#f0976f"/>
<path d="M500 470 Q510 400 570 395 Q625 400 636 460 Q580 425 500 470 Z" fill="#1f2a3a"/>
<path d="M555 492 Q575 505 598 490 Q580 520 555 492 Z" fill="#3a2326"/>
<path d="M710 950 L815 990 L640 1280 L572 1332 L540 1300 L640 1150 Z" fill="#f0976f"/>
<path d="M820 985 L935 975 L962 1150 L962 1420 L905 1420 L890 1150 Z" fill="#f6a681"/>
<path d="M445 1310 Q500 1300 560 1330 L540 1400 Q480 1380 440 1330 Z" fill="#e9ecef"/>
<path d="M880 1502 Q885 1440 910 1415 L960 1415 Q975 1460 972 1502 Z" fill="#e9ecef"/>
<path d="M760 775 L905 775 L940 860 L935 975 L820 987 L705 950 L725 850 Z" fill="#8f3140"/>
<path d="M728 500 L800 440" fill="none" stroke="#f6a681" stroke-width="36" stroke-linecap="round" stroke-linejoin="round"/>
<path d="M782 395 Q800 380 825 400 L830 470 L790 480 Z" fill="#f6a681"/>
<path d="M800 520 L900 545 L930 520 L900 772 L760 772 L770 600 Z" fill="#253444"/>
<path d="M738 522 L668 580" fill="none" stroke="#7ba8d0" stroke-width="78" stroke-linecap="round" stroke-linejoin="round"/>
<path d="M668 570 L775 490" fill="none" stroke="#7ba8d0" stroke-width="46" stroke-linecap="round" stroke-linejoin="round"/>
<path d="M745 508 L832 515 L790 600 L745 700 L720 832 L693 720 L700 600 Z" fill="#6f9cc6"/>
<path d="M955 560 L1055 690 L985 800" fill="none" stroke="#7ba8d0" stroke-width="66" stroke-linecap="round" stroke-linejoin="round"/>
<path d="M905 540 L962 525 L1002 640 L985 760 L1032 900 L985 922 L940 800 L880 640 Z" fill="#6f9cc6"/>
<path d="M880 800 Q930 790 962 815 L945 845 L890 840 Z" fill="#f6a681"/>
<path d="M838 470 Q820 380 900 362 Q975 370 982 450 Q985 520 940 520 L930 450 Z" fill="#ef6b7c"/>
<ellipse cx="892" cy="455" rx="47" ry="58" fill="#f6a681"/>
<path d="M842 440 Q850 385 905 380 Q960 395 965 470 Q920 400 842 440 Z" fill="#ef6b7c"/>
<path d="M870 478 Q890 490 910 474 Q895 505 870 478 Z" fill="#3a2326"/>
<path d="M1960 1125 L2045 1095 L2117 1280 L2065 1312 Z" fill="#f6a681"/>
<path d="M1567 1225 L1650 1215 L1585 1425 L1537 1425 Z" fill="#f6a681"/>
<path d="M2060 1290 Q2145 1260 2213 1285 L2200 1340 L2095 1372 Q2065 1340 2060 1290 Z" fill="#e6e9ec"/>
<path d="M1525 1502 Q1530 1440 1545 1412 L1595 1415 Q1610 1470 1605 1502 Z" fill="#e6e9ec"/>
<path d="M1585 850 L1805 780 L1965 940 L2053 1090 L1955 1132 L1755 962 L1705 1030 L1645 1100 L1653 1222 L1565 1232 L1555 1190 L1570 1000 Z" fill="#9a3141"/>
<path d="M1670 432 Q1757 330 1777 195" fill="none" stroke="#ea4b59" stroke-width="76" stroke-linecap="round" stroke-linejoin="round"/>
<path d="M1745 160 L1730 110 Q1765 55 1805 60 Q1820 80 1805 165 Z" fill="#f6a681"/>
<path d="M1330 530 L1405 450 L1505 420 L1665 410 L1745 560 L1807 780 L1725 832 L1605 852 L1535 760 L1505 620 L1435 590 Z" fill="#ea4b59"/>
<rect x="1505" y="385" width="55" height="60" fill="#f6a681"/>
<ellipse cx="1535" cy="362" rx="50" ry="62" fill="#f6a681"/>
<path d="M1480 340 Q1475 265 1535 262 Q1595 270 1587 350 Q1545 300 1480 340 Z" fill="#f3ce7b"/>
<path d="M1510 385 Q1535 400 1560 382 Q1535 425 1510 385 Z" fill="#3a2326"/>
<path d="M1530 455 L1545 540 M1575 460 Q1605 500 1650 480" fill="none" stroke="#f7d9dc" stroke-width="8" stroke-linecap="round" stroke-linejoin="round"/>
<path d="M1325 990 L1545 900 L1747 1090 L1747 1442 L1665 1442 L1650 1130 L1497 1020 L1435 1180 L1285 1400 L1205 1452 L1173 1400 L1315 1180 Z" fill="#9dc1de"/>
<path d="M1150 1502 Q1155 1450 1195 1432 L1255 1450 Q1280 1480 1275 1502 Z" fill="#27364a"/>
<path d="M1653 1502 Q1655 1455 1685 1448 L1745 1452 Q1795 1470 1795 1502 Z" fill="#27364a"/>
<path d="M1180 640 L1295 570 L1405 590 L1475 660 L1485 780 L1545 900 L1435 982 L1320 992 L1255 820 L1175 700 Z" fill="#e3e6ea"/>
<path d="M1280 795 L1480 690" fill="none" stroke="#f0976f" stroke-width="52" stroke-linecap="round" stroke-linejoin="round"/>
<path d="M1495 620 Q1530 600 1535 640 L1520 690 L1490 680 Z" fill="#f6a681"/>
<rect x="1225" y="540" width="50" height="60" fill="#f0976f"/>
<ellipse cx="1247" cy="502" rx="55" ry="66" fill="#f0976f"/>
<path d="M1190 500 Q1195 440 1305 445 L1310 470 Q1225 460 1190 500 Z" fill="#2a3a4a"/>
<path d="M1167 470 Q1175 390 1245 392 Q1305 395 1317 440 L1305 448 Q1215 430 1167 470 Z" fill="#a7323f"/>
<path d="M1175 432 Q1195 398 1255 405 L1245 425 Z" fill="#f0e9ea"/>
<path d="M1225 530 Q1250 545 1273 525 Q1255 560 1225 530 Z" fill="#3a2326"/>
</g>
</svg>
</body></html>
